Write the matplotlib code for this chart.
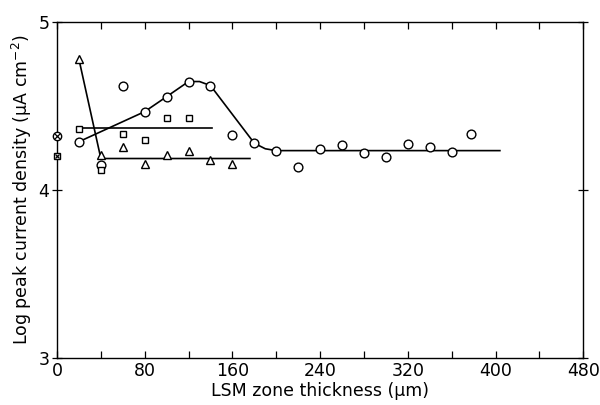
import matplotlib
matplotlib.use("Agg")
import matplotlib.pyplot as plt

# Circles on the fitted line
circ_line_x = [20, 80, 100, 120, 140, 180, 200]
circ_line_y = [4.287, 4.466, 4.555, 4.645, 4.621, 4.278, 4.234]
# Fitted curve for circles
circ_fit_x = [20, 80, 100, 120, 130, 140, 180, 190, 200, 404]
circ_fit_y = [4.287, 4.466, 4.555, 4.645, 4.645, 4.621, 4.278, 4.245, 4.234, 4.234]
# Other circles
circ_x = [40, 60, 160, 220, 240, 260, 280, 300, 320, 340, 360, 378]
circ_y = [4.149, 4.621, 4.329, 4.135, 4.244, 4.268, 4.222, 4.196, 4.276, 4.256, 4.224, 4.335]

# Squares
sq_x = [20, 40, 60, 80, 100, 120]
sq_y = [4.365, 4.119, 4.331, 4.299, 4.427, 4.427]
sq_fit_x = [20, 141]
sq_fit_y = [4.371, 4.371]

# Triangles
tri_x = [20, 40, 60, 80, 100, 120, 140, 160]
tri_y = [4.778, 4.208, 4.258, 4.155, 4.206, 4.234, 4.177, 4.155]
tri_fit_x = [20, 40, 176]
tri_fit_y = [4.778, 4.187, 4.187]

# Reference markers on the y axis
ref_circle_y = 4.321
ref_square_y = 4.204

fig = plt.figure(figsize=(6.0, 4.05), dpi=100)
ax = fig.add_axes([0.095, 0.116, 0.877, 0.83])

lw = 1.2
ax.plot(circ_fit_x, circ_fit_y, color="black", lw=lw, zorder=2)
ax.plot(sq_fit_x, sq_fit_y, color="black", lw=lw, zorder=2)
ax.plot(tri_fit_x, tri_fit_y, color="black", lw=lw, zorder=2)

ax.plot(circ_line_x, circ_line_y, "o", ms=6.3, mfc="white", mec="black", mew=1.0, zorder=3)
ax.plot(circ_x, circ_y, "o", ms=6.3, mfc="white", mec="black", mew=1.0, zorder=3)
ax.plot(sq_x, sq_y, "s", ms=4.8, mfc="white", mec="black", mew=1.0, zorder=3)
ax.plot(tri_x, tri_y, "^", ms=5.5, mfc="white", mec="black", mew=1.0, zorder=3)

ax.plot([0], [ref_circle_y], "o", ms=6, mfc="white", mec="black", mew=1.0, clip_on=False, zorder=5)
ax.plot([0], [ref_circle_y], "x", ms=4, mec="black", mew=0.9, clip_on=False, zorder=6)
ax.plot([0], [ref_square_y], "s", ms=5, mfc="white", mec="black", mew=1.0, clip_on=False, zorder=5)
ax.plot([0], [ref_square_y], "x", ms=3.5, mec="black", mew=0.9, clip_on=False, zorder=6)

ax.set_xlim(0, 480)
ax.set_ylim(3, 5)
ax.set_xticks(range(0, 481, 80))
ax.set_xticks(range(40, 480, 80), minor=True)
ax.set_yticks([3, 4, 5])
ax.tick_params(axis="x", which="both", direction="in", top=True, length=5, width=0.9, labelsize=12.5, pad=3)
ax.tick_params(axis="y", which="both", direction="inout", right=True, length=7, width=0.9, labelsize=12.5, pad=2)
for s in ax.spines.values():
    s.set_linewidth(1.0)

ax.set_xlabel("LSM zone thickness (µm)", fontsize=12.5, labelpad=1)
ax.set_ylabel("Log peak current density (µA cm$^{-2}$)", fontsize=12.5, labelpad=3)

fig.savefig("out.png", dpi=100)
